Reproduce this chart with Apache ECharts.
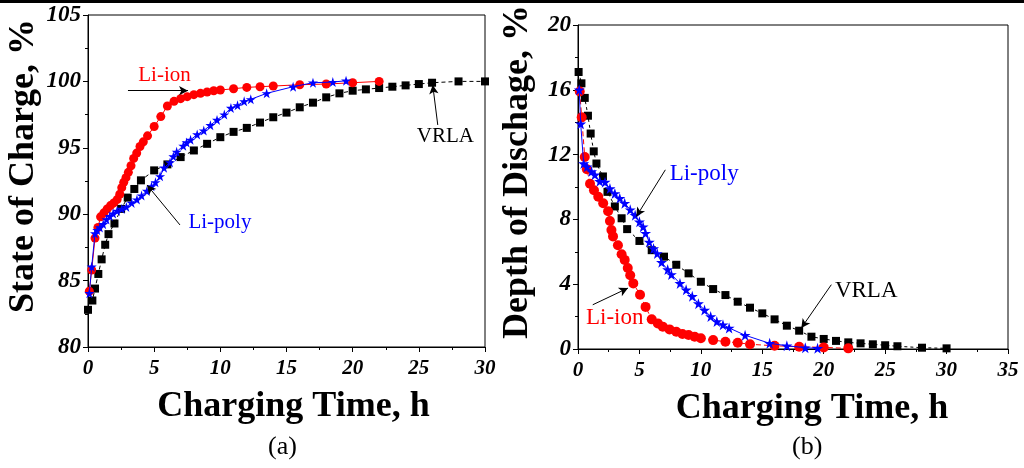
<!DOCTYPE html>
<html>
<head>
<meta charset="utf-8">
<script src="https://cdn.jsdelivr.net/npm/echarts@6/dist/echarts.min.js"></script>
<style>html,body{margin:0;padding:0;background:#fff}#c{width:1024px;height:468px}</style>
</head>
<body>
<div id="c"></div>
<script>
// ---- (a) State of Charge vs charging time ----
var vrlaSocT = [0, 0.33, 0.53, 0.78, 1.03, 1.3, 1.55, 2.0, 2.5, 3.0, 3.5, 4.0, 5, 6, 7, 8, 9, 10, 11, 12, 13, 14, 15, 16, 17, 18, 19, 20, 21, 22, 23, 24, 25, 26, 28, 30];
var vrlaSoc  = [82.8, 83.5, 84.4, 85.5, 86.6, 87.7, 88.5, 89.3, 90.4, 91.25, 91.9, 92.55, 93.3, 93.75, 94.3, 94.8, 95.3, 95.8, 96.2, 96.5, 96.9, 97.3, 97.65, 98.05, 98.4, 98.8, 99.1, 99.3, 99.4, 99.5, 99.6, 99.7, 99.8, 99.9, 100, 100];
var liionSocT = [0.1, 0.28, 0.53, 0.75, 0.95, 1.2, 1.45, 1.7, 1.95, 2.2, 2.4, 2.55, 2.7, 2.87, 3.05, 3.25, 3.45, 3.68, 3.93, 4.18, 4.5, 5.0, 5.5, 6.0, 6.5, 7, 7.5, 8.0, 8.5, 9.0, 9.5, 10, 11, 12, 13, 14, 16, 18, 20, 22];
var liionSoc  = [84.2, 85.8, 88.2, 89.0, 89.8, 90.1, 90.4, 90.65, 90.85, 91.1, 91.5, 92.0, 92.4, 92.75, 93.15, 93.65, 94.2, 94.6, 95.1, 95.45, 95.9, 96.6, 97.35, 98.15, 98.5, 98.7, 98.85, 99.0, 99.1, 99.2, 99.3, 99.35, 99.45, 99.55, 99.6, 99.65, 99.75, 99.8, 99.9, 100];
var lipolySocT = [0.1, 0.28, 0.53, 0.7, 0.9, 1.15, 1.4, 1.65, 1.9, 2.2, 2.55, 2.9, 3.3, 3.7, 4.05, 4.45, 4.8, 5.1, 5.45, 5.75, 6.2, 6.45, 6.7, 7.2, 7.45, 7.75, 8.25, 8.75, 9.25, 9.75, 10.3, 10.8, 11.3, 11.8, 12.3, 13.5, 15.5, 17.0, 18.5, 19.5];
var lipolySoc  = [84.05, 86.05, 88.55, 88.8, 89.0, 89.25, 89.6, 89.85, 90.05, 90.25, 90.4, 90.55, 90.85, 91.1, 91.4, 91.75, 92.1, 92.4, 92.85, 93.5, 93.9, 94.35, 94.7, 95.15, 95.4, 95.6, 96.0, 96.3, 96.7, 97.1, 97.5, 98.0, 98.2, 98.5, 98.65, 99.1, 99.6, 99.9, 99.95, 100.05];

// ---- (b) Depth of discharge vs charging time ----
var vrlaDodT = [0.05, 0.28, 0.55, 0.81, 1.03, 1.28, 1.5, 2.03, 2.4, 3.0, 3.55, 4.0, 5, 6, 7, 8, 9, 10, 11, 12, 13, 14, 15, 16, 17, 18, 19, 20, 21, 22, 23, 24, 25, 26, 28, 30];
var vrlaDod  = [17.1, 16.4, 15.5, 14.4, 13.3, 12.2, 11.45, 10.65, 9.7, 8.8, 8.07, 7.4, 6.67, 6.1, 5.7, 5.2, 4.67, 4.15, 3.7, 3.33, 2.92, 2.55, 2.2, 1.83, 1.44, 1.13, 0.76, 0.62, 0.5, 0.41, 0.35, 0.29, 0.23, 0.17, 0.08, 0.04];
var liionDodT = [0.14, 0.3, 0.55, 0.72, 0.98, 1.3, 1.65, 2.05, 2.45, 2.6, 2.72, 2.85, 3.25, 3.55, 3.8, 4.05, 4.25, 4.5, 5.05, 5.5, 6.0, 6.5, 6.9, 7.45, 8.0, 8.5, 9.0, 9.5, 10.0, 11, 12, 13, 14, 16, 18, 20, 22];
var liionDod  = [15.9, 14.3, 11.85, 11.1, 10.2, 9.8, 9.4, 9.0, 8.5, 7.9, 7.35, 6.95, 6.4, 5.85, 5.5, 5.0, 4.55, 4.05, 3.35, 2.6, 1.83, 1.58, 1.38, 1.21, 1.07, 0.93, 0.86, 0.76, 0.66, 0.55, 0.45, 0.39, 0.29, 0.2, 0.14, 0.1, 0.04];
var lipolyDodT = [0.1, 0.22, 0.46, 0.73, 1.1, 1.37, 1.77, 2.2, 2.6, 3.0, 3.4, 3.8, 4.25, 4.65, 5.0, 5.3, 5.5, 5.8, 6.15, 6.45, 6.8, 7.3, 7.6, 8.3, 8.8, 9.3, 9.8, 10.3, 10.8, 11.3, 11.8, 12.3, 13.6, 15.6, 17.0, 18.5, 19.5];
var lipolyDod  = [16.0, 13.9, 11.45, 11.25, 10.95, 10.75, 10.35, 10.3, 9.9, 9.6, 9.3, 9.0, 8.6, 8.25, 7.85, 7.55, 7.15, 6.6, 6.2, 5.9, 5.35, 4.9, 4.6, 4.05, 3.65, 3.25, 2.8, 2.4, 2.0, 1.7, 1.5, 1.3, 0.85, 0.35, 0.2, 0.08, 0.04];

// axis ranges / tick labels
var socXTicks = [0, 5, 10, 15, 20, 25, 30];
var socYTicks = [80, 85, 90, 95, 100, 105];
var dodXTicks = [0, 5, 10, 15, 20, 25, 30, 35];
var dodYTicks = [0, 4, 8, 12, 16, 20];
var xTitle = 'Charging Time, h';
var socTitle = 'State of Charge, %';
var dodTitle = 'Depth of Dischage, %';
var seriesNames = ['VRLA', 'Li-ion', 'Li-poly'];
var panelLabels = ['(a)', '(b)'];

function pairs(xs, ys) { return xs.map(function (x, i) { return [x, ys[i]]; }); }

var SERIF = "'Liberation Serif', 'Times New Roman', serif";
var STAR = 'path://M50,0 L61,35 L98,35 L68,57 L79,91 L50,70 L21,91 L32,57 L2,35 L39,35 Z';

function xAxisDef(gi, ticks, shift) {
  return {
    type: 'value', gridIndex: gi, min: ticks[0], max: ticks[ticks.length - 1], interval: 5,
    name: xTitle, nameLocation: 'middle', nameGap: 42,
    nameTextStyle: { fontFamily: SERIF, fontWeight: 'bold', fontSize: 36, color: '#000', padding: [0, 0, 0, shift] },
    axisLine: { show: true, onZero: false, lineStyle: { color: '#000', width: 1 } },
    axisTick: { show: true, length: 5, lineStyle: { color: '#000' } },
    minorTick: { show: true, splitNumber: 2, length: 3, lineStyle: { color: '#000' } },
    splitLine: { show: false },
    axisLabel: { fontFamily: SERIF, fontWeight: 'bold', fontStyle: 'italic', fontSize: 21, color: '#000', margin: 11 }
  };
}
function yAxisDef(gi, ticks, interval, title, gap) {
  return {
    type: 'value', gridIndex: gi, min: ticks[0], max: ticks[ticks.length - 1], interval: interval,
    name: title, nameLocation: 'middle', nameGap: gap,
    nameTextStyle: { fontFamily: SERIF, fontWeight: 'bold', fontSize: 36, color: '#000', padding: [0, 0, 0, 30] },
    axisLine: { show: true, onZero: false, lineStyle: { color: '#000', width: 1 } },
    axisTick: { show: true, length: 5, lineStyle: { color: '#000' } },
    minorTick: { show: true, splitNumber: 2, length: 3, lineStyle: { color: '#000' } },
    splitLine: { show: false },
    axisLabel: { fontFamily: SERIF, fontWeight: 'bold', fontStyle: 'italic', fontSize: 23, color: '#000', margin: 7 }
  };
}

function arrow(from, to) {
  return [{ coord: from }, { coord: to }];
}
function note(coord, text, color, size) {
  return { coord: coord, value: text, label: { formatter: text, color: color, fontSize: size } };
}

function series(gi, name, xs, ys, opts) {
  var s = {
    type: 'line', name: name, xAxisIndex: gi, yAxisIndex: gi,
    data: pairs(xs, ys),
    symbol: opts.symbol, symbolSize: opts.size,
    itemStyle: { color: opts.color },
    lineStyle: { color: opts.color, width: 1, type: opts.dash || 'solid' },
    z: opts.z || 2
  };
  if (opts.arrow) {
    s.markLine = {
      silent: true, symbol: ['none', 'arrow'], symbolSize: [7, 9],
      label: { show: false },
      lineStyle: { color: '#000', width: 1, type: 'solid' },
      data: [arrow(opts.arrow[0], opts.arrow[1])]
    };
  }
  if (opts.note) {
    s.markPoint = {
      silent: true, symbol: 'circle', symbolSize: 0,
      label: { show: true, position: 'inside', fontFamily: SERIF },
      data: [note(opts.note[0], opts.note[1], opts.color, opts.noteSize)]
    };
  }
  return s;
}

var chart = echarts.init(document.getElementById('c'), null, { renderer: 'canvas' });
chart.setOption({
  animation: false,
  backgroundColor: '#fff',
  grid: [
    { left: 88, top: 15, width: 397, height: 332, show: true, borderColor: '#000', borderWidth: 1, backgroundColor: 'transparent' },
    { left: 578, top: 25, width: 430, height: 324, show: true, borderColor: '#000', borderWidth: 1, backgroundColor: 'transparent' }
  ],
  xAxis: [xAxisDef(0, socXTicks, 14), xAxisDef(1, dodXTicks, 38)],
  yAxis: [yAxisDef(0, socYTicks, 5, socTitle, 46), yAxisDef(1, dodYTicks, 4, dodTitle, 42)],
  series: [
    series(0, seriesNames[0], vrlaSocT, vrlaSoc, { symbol: 'rect', size: 8, color: '#000', dash: [4, 3], z: 2,
      arrow: [[26.43, 96.72], [26.05, 99.73]], note: [[27.0, 95.85], 'VRLA'], noteSize: 21 }),
    series(0, seriesNames[1], liionSocT, liionSoc, { symbol: 'circle', size: 9, color: '#ff0000', z: 3,
      arrow: [[3.02, 99.3], [7.56, 99.3]], note: [[5.78, 100.44], 'Li-ion'], noteSize: 21 }),
    series(0, seriesNames[2], lipolySocT, lipolySoc, { symbol: STAR, size: 10, color: '#0000ff', z: 4,
      arrow: [[6.95, 89.19], [4.46, 92.2]], note: [[9.97, 89.34], 'Li-poly'], noteSize: 21 }),
    series(1, seriesNames[0], vrlaDodT, vrlaDod, { symbol: 'rect', size: 8, color: '#000', dash: [3, 3], z: 2,
      arrow: [[20.62, 3.97], [18.18, 1.3]], note: [[23.46, 3.56], 'VRLA'], noteSize: 23 }),
    series(1, seriesNames[1], liionDodT, liionDod, { symbol: 'circle', size: 10, color: '#ff0000', dash: [5, 3], z: 3,
      arrow: [[1.2, 2.73], [4.07, 3.76]], note: [[2.99, 1.9], 'Li-ion'], noteSize: 23 }),
    series(1, seriesNames[2], lipolyDodT, lipolyDod, { symbol: STAR, size: 11, color: '#0000ff', z: 4,
      arrow: [[7.11, 11.06], [4.75, 8.18]], note: [[10.27, 10.78], 'Li-poly'], noteSize: 23 })
  ],
  graphic: [
    { type: 'rect', left: 0, top: 0, shape: { width: 1024, height: 3 }, style: { fill: '#000' } },
    { type: 'text', left: 268, top: 434, style: { text: panelLabels[0], font: "26px " + SERIF, fill: '#000' } },
    { type: 'text', left: 792, top: 434, style: { text: panelLabels[1], font: "26px " + SERIF, fill: '#000' } }
  ]
});
</script>
</body>
</html>
